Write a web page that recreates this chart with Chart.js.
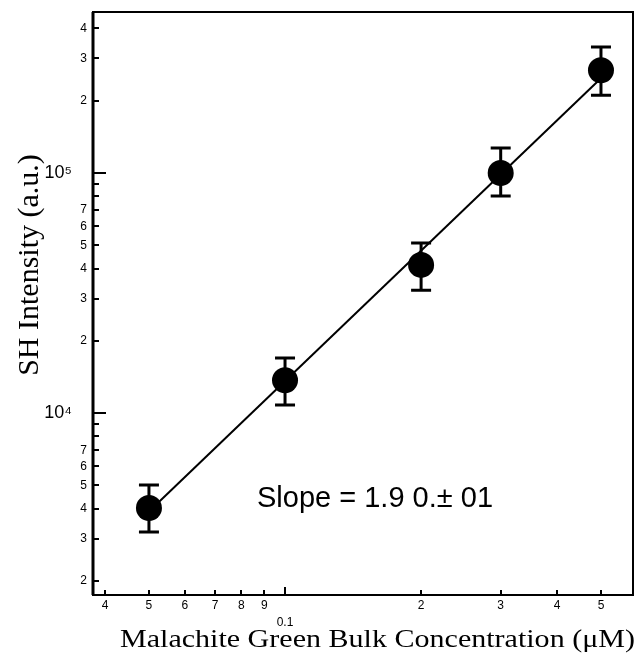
<!DOCTYPE html>
<html>
<head>
<meta charset="utf-8">
<script src="https://cdn.jsdelivr.net/npm/chart.js@4/dist/chart.umd.min.js"></script>
<style>
  html, body { margin: 0; padding: 0; background: #fff; }
  canvas { display: block; }
</style>
</head>
<body>
<canvas id="chart" width="637" height="658"></canvas>
<script>
// concentration (uM) and SH intensity (a.u.)
const conc = [0.05, 0.1, 0.2, 0.3, 0.5];
const intensity = [4020, 13700, 41400, 100000, 268000];
const errHigh = [5010, 16950, 51100, 127000, 335000];
const errLow = [3190, 10800, 32500, 80200, 211000];

// fitted line, slope ~1.9 on log-log
const fitX = [0.05, 0.5];
const fitY = [3890, 248000];

const xTickValues = [0.04, 0.05, 0.06, 0.07, 0.08, 0.09, 0.1, 0.2, 0.3, 0.4, 0.5];
const xTickLabels = ['4', '5', '6', '7', '8', '9', ['', '0.1'], '2', '3', '4', '5'];

const yTickValues = [2000, 3000, 4000, 5000, 6000, 7000, 8000, 9000, 10000,
  20000, 30000, 40000, 50000, 60000, 70000, 80000, 90000, 100000,
  200000, 300000, 400000];
const yTickLabels = ['2', '3', '4', '5', '6', '7', '', '', '10\u2074   ',
  '2', '3', '4', '5', '6', '7', '', '', '10\u2075   ',
  '2', '3', '4'];

const annotation = 'Slope = 1.9 0.\u00b1 01';
const xTitle = 'Malachite Green Bulk Concentration (\u03bcM)';
const yTitle = 'SH Intensity (a.u.)';

const isDecade = v => Math.abs(Math.log10(v) - Math.round(Math.log10(v))) < 1e-9;

const frameAndMarks = {
  id: 'frameAndMarks',
  afterDatasetsDraw(chart){
    const {ctx, chartArea: a, scales: {x, y}} = chart;
    ctx.save();
    ctx.strokeStyle = '#000';
    ctx.fillStyle = '#000';

    // error bars
    ctx.lineWidth = 3;
    conc.forEach((c, i) => {
      const px = x.getPixelForValue(c);
      const top = y.getPixelForValue(errHigh[i]);
      const bot = y.getPixelForValue(errLow[i]);
      ctx.beginPath();
      ctx.moveTo(px, top); ctx.lineTo(px, bot);
      ctx.moveTo(px - 10, top); ctx.lineTo(px + 10, top);
      ctx.moveTo(px - 10, bot); ctx.lineTo(px + 10, bot);
      ctx.stroke();
    });

    // frame
    ctx.lineWidth = 2;
    ctx.strokeRect(a.left, a.top, a.right - a.left, a.bottom - a.top);
    ctx.lineWidth = 3;
    ctx.beginPath();
    ctx.moveTo(a.left, a.top); ctx.lineTo(a.left, a.bottom);
    ctx.stroke();

    // inward ticks
    ctx.lineWidth = 2;
    ctx.beginPath();
    yTickValues.forEach(v => {
      const py = Math.round(y.getPixelForValue(v));
      const len = isDecade(v) ? 13 : 6;
      ctx.moveTo(a.left, py); ctx.lineTo(a.left + len, py);
    });
    xTickValues.forEach(v => {
      const px = Math.round(x.getPixelForValue(v));
      const len = isDecade(v) ? 8 : 5;
      ctx.moveTo(px, a.bottom); ctx.lineTo(px, a.bottom - len);
    });
    ctx.stroke();

    // titles and slope note
    ctx.textBaseline = 'alphabetic';
    ctx.textAlign = 'left';
    ctx.save();
    ctx.font = '26px "Liberation Serif", "Times New Roman", serif';
    const w = ctx.measureText(xTitle).width;
    ctx.translate(120, 647);
    ctx.scale(515 / w, 1);
    ctx.fillText(xTitle, 0, 0);
    ctx.restore();

    ctx.save();
    ctx.translate(38, 265);
    ctx.rotate(-Math.PI / 2);
    ctx.textAlign = 'center';
    ctx.font = '30px "Liberation Serif", "Times New Roman", serif';
    ctx.fillText(yTitle, 0, 0);
    ctx.restore();

    ctx.font = '29px "Liberation Sans", Arial, sans-serif';
    ctx.fillText(annotation, 257, 507);
    ctx.restore();
  }
};

new Chart(document.getElementById('chart'), {
  type: 'scatter',
  data: {
    datasets: [
      {
        data: fitX.map((v, i) => ({x: v, y: fitY[i]})),
        showLine: true,
        borderColor: '#000',
        borderWidth: 2,
        pointRadius: 0,
        order: 2
      },
      {
        data: conc.map((v, i) => ({x: v, y: intensity[i]})),
        pointRadius: 13,
        pointBackgroundColor: '#000',
        pointBorderColor: '#000',
        pointBorderWidth: 0,
        order: 1
      }
    ]
  },
  options: {
    responsive: false,
    animation: false,
    layout: { autoPadding: false, padding: { top: 12, right: 4, left: 0, bottom: 0 } },
    plugins: { legend: { display: false }, tooltip: { enabled: false } },
    scales: {
      x: {
        type: 'logarithmic',
        min: 0.0376,
        max: 0.5886,
        border: { display: false },
        grid: { display: false, drawTicks: false },
        afterBuildTicks: s => { s.ticks = xTickValues.map(v => ({value: v})); },
        afterFit: s => { s.height = 63; s.paddingLeft = 0; s.paddingRight = 0; },
        ticks: {
          autoSkip: false,
          maxRotation: 0,
          padding: 2,
          color: '#000',
          font: { family: '"Liberation Sans", Arial, sans-serif', size: 12, lineHeight: 1.4 },
          callback: (v, i) => xTickLabels[i]
        }
      },
      y: {
        type: 'logarithmic',
        min: 1745,
        max: 468600,
        border: { display: false },
        grid: { display: false, drawTicks: false },
        afterBuildTicks: s => { s.ticks = yTickValues.map(v => ({value: v})); },
        afterFit: s => { s.width = 93; s.paddingTop = 0; s.paddingBottom = 0; },
        ticks: {
          autoSkip: false,
          padding: 6,
          color: '#000',
          font: ctx => (ctx.tick && isDecade(ctx.tick.value))
            ? { family: '"Liberation Sans", Arial, sans-serif', size: 18 }
            : { family: '"Liberation Sans", Arial, sans-serif', size: 12 },
          callback: (v, i) => yTickLabels[i]
        }
      }
    }
  },
  plugins: [frameAndMarks]
});
</script>
</body>
</html>
